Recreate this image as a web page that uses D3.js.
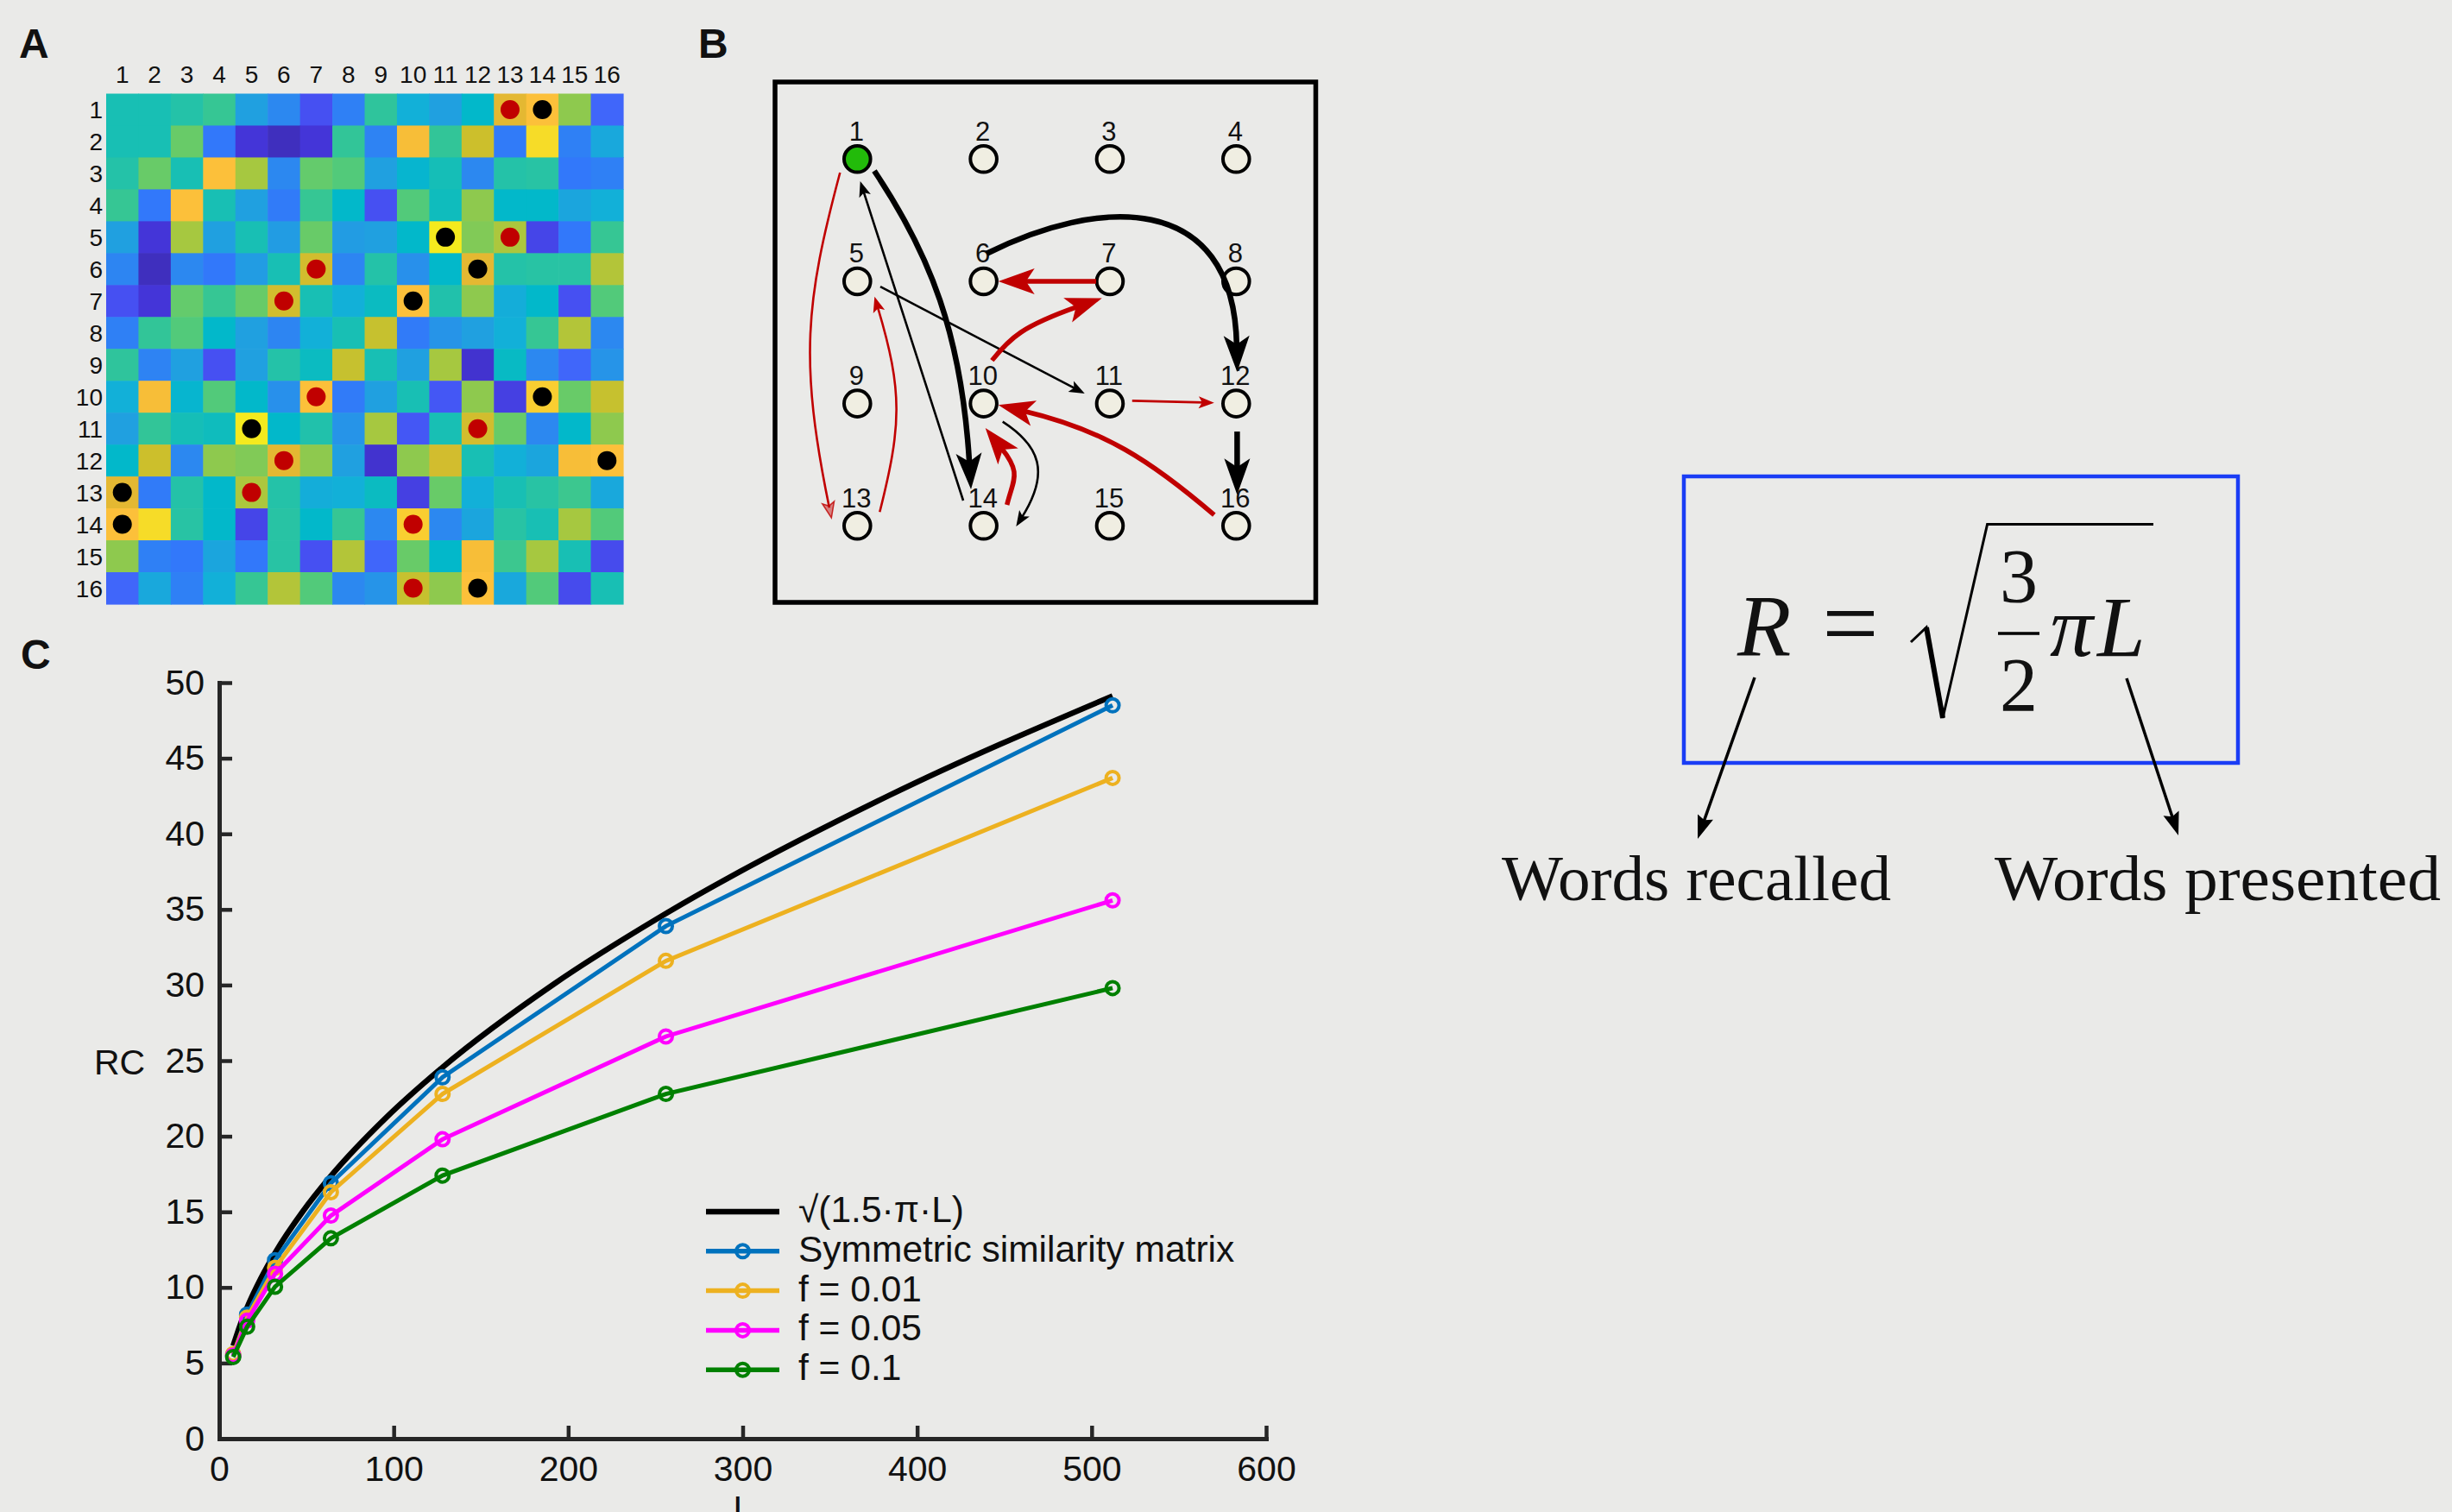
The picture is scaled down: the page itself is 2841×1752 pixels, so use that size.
<!DOCTYPE html>
<html>
<head>
<meta charset="utf-8">
<script src="https://cdn.jsdelivr.net/npm/d3@7"></script>
<style>
  html, body { margin: 0; padding: 0; background: #eaeae8; }
  svg { display: block; }
  text { font-family: "Liberation Sans", Arial, Helvetica, sans-serif; fill: #111; }
  .serif { font-family: "Liberation Serif", "Times New Roman", serif; }
</style>
</head>
<body>
<svg id="fig" width="2841" height="1752"></svg>
<script>
// ---------- Panel A: item similarity matrix (symmetric, 16 x 16) ----------
const itemLabels = d3.range(1, 17);
const simMatrix = [
  [0.49,0.49,0.53,0.58,0.30,0.24,0.10,0.21,0.56,0.36,0.30,0.42,0.89,0.94,0.74,0.13],
  [0.49,0.49,0.68,0.18,0.05,0.02,0.05,0.57,0.22,0.93,0.57,0.85,0.19,0.98,0.21,0.33],
  [0.53,0.68,0.49,0.94,0.79,0.24,0.67,0.63,0.30,0.40,0.48,0.24,0.53,0.54,0.18,0.21],
  [0.58,0.18,0.94,0.49,0.30,0.19,0.58,0.42,0.10,0.63,0.46,0.74,0.42,0.42,0.32,0.36],
  [0.30,0.05,0.79,0.30,0.49,0.29,0.68,0.29,0.30,0.42,1.00,0.72,0.80,0.08,0.18,0.58],
  [0.23,0.02,0.24,0.18,0.29,0.49,0.86,0.23,0.53,0.26,0.42,0.89,0.53,0.54,0.54,0.81],
  [0.10,0.05,0.67,0.58,0.68,0.86,0.49,0.36,0.45,0.94,0.52,0.74,0.35,0.42,0.10,0.63],
  [0.21,0.57,0.63,0.42,0.30,0.23,0.36,0.49,0.84,0.19,0.27,0.30,0.36,0.58,0.81,0.24],
  [0.56,0.22,0.30,0.10,0.30,0.53,0.45,0.84,0.49,0.30,0.79,0.04,0.44,0.24,0.13,0.27],
  [0.36,0.93,0.40,0.63,0.42,0.26,0.94,0.19,0.30,0.49,0.11,0.74,0.07,0.96,0.68,0.84],
  [0.30,0.57,0.48,0.46,1.00,0.42,0.52,0.27,0.79,0.11,0.49,0.86,0.68,0.24,0.42,0.74],
  [0.42,0.85,0.24,0.74,0.72,0.89,0.74,0.30,0.04,0.74,0.86,0.49,0.36,0.32,0.93,0.94],
  [0.89,0.19,0.53,0.42,0.80,0.53,0.35,0.36,0.45,0.07,0.68,0.36,0.49,0.54,0.59,0.33],
  [0.94,0.98,0.54,0.42,0.08,0.54,0.42,0.58,0.24,0.96,0.24,0.32,0.54,0.49,0.79,0.63],
  [0.74,0.21,0.18,0.32,0.18,0.54,0.10,0.81,0.13,0.68,0.42,0.93,0.59,0.79,0.49,0.09],
  [0.13,0.33,0.21,0.36,0.58,0.81,0.63,0.24,0.27,0.84,0.74,0.94,0.33,0.63,0.09,0.49]
];
// marked cells [row, column]
const redMarks   = [[1,13],[5,13],[6,7],[7,6],[10,7],[11,12],[12,6],[13,5],[14,10],[16,10]];
const blackMarks = [[1,14],[5,11],[6,12],[7,10],[10,14],[11,5],[12,16],[13,1],[14,1],[16,12]];

// parula-like colormap
const cmapStops  = [0.02,0.05,0.10,0.13,0.18,0.24,0.30,0.36,0.42,0.49,0.53,0.58,0.63,0.68,0.74,0.79,0.85,0.89,0.94,0.98,1.00];
const cmapColors = ['#3f2fbe','#4435d8','#4650f2','#4066fa','#3278fa','#2c88f0','#20a0e0','#12b0d8','#02b8ca','#18bfb4',
                    '#24c2a8','#36c694','#52ca7a','#68cb68','#8ec94e','#a6c840','#ccbf2c','#e4b832','#fcc03a','#f6dc28','#f5ea1e'];

// ---------- Panel B: recall transitions on a 4 x 4 grid of items ----------
const gridItems = d3.range(1, 17);
const firstRecalled = 1;
const transitions = [
  { from: 1,  to: 14, kind: 'black', weight: 'thick' },
  { from: 14, to: 1,  kind: 'black', weight: 'thin'  },
  { from: 1,  to: 13, kind: 'red',   weight: 'thin'  },
  { from: 13, to: 5,  kind: 'red',   weight: 'thin'  },
  { from: 5,  to: 11, kind: 'black', weight: 'thin'  },
  { from: 6,  to: 12, kind: 'black', weight: 'thick' },
  { from: 7,  to: 6,  kind: 'red',   weight: 'thick' },
  { from: 10, to: 7,  kind: 'red',   weight: 'thick' },
  { from: 11, to: 12, kind: 'red',   weight: 'thin'  },
  { from: 12, to: 16, kind: 'black', weight: 'thick' },
  { from: 16, to: 10, kind: 'red',   weight: 'thick' },
  { from: 14, to: 10, kind: 'red',   weight: 'thick' },
  { from: 10, to: 14, kind: 'black', weight: 'thin'  }
];

// ---------- Panel C: recall capacity vs list length ----------
const listLength   = [8, 16, 32, 64, 128, 256, 512];
const rcSymmetric  = [5.5, 8.2, 11.8, 16.9, 23.9, 33.9, 48.5];
const rcF001       = [5.6, 8.0, 11.3, 16.3, 22.8, 31.6, 43.7];
const rcF005       = [5.5, 7.8, 10.9, 14.75, 19.8, 26.6, 35.6];
const rcF01        = [5.4, 7.4, 10.05, 13.25, 17.4, 22.8, 29.8];
const theoryL      = [8, 12, 16, 24, 32, 48, 64, 96, 128, 192, 256, 384, 512];
const theoryRC     = [6.14, 7.52, 8.68, 10.63, 12.28, 15.04, 17.37, 21.27, 24.56, 30.08, 34.73, 42.54, 49.12];
const legendLabels = ['\u221A(1.5\u00B7\u03C0\u00B7L)', 'Symmetric similarity matrix', 'f = 0.01', 'f = 0.05', 'f = 0.1'];
const xTicks = [0, 100, 200, 300, 400, 500, 600];
const yTicks = [0, 5, 10, 15, 20, 25, 30, 35, 40, 45, 50];

// =====================================================================
const svg = d3.select('#fig');
svg.append('rect').attr('width', 2841).attr('height', 1752).attr('fill', '#eaeae8');

function panelLetter(txt, x, y) {
  svg.append('text').attr('x', x).attr('y', y).attr('font-size', 48).attr('font-weight', 'bold').text(txt);
}
panelLetter('A', 22, 67);
panelLetter('B', 809, 67);
panelLetter('C', 24, 775);

// ---------- Panel A ----------
const gA = svg.append('g');
const mx = d3.scaleBand().domain(itemLabels).range([123, 722]);
const my = d3.scaleBand().domain(itemLabels).range([108.5, 700]);
const cmap = d3.scaleLinear().domain(cmapStops).range(cmapColors).interpolate(d3.interpolateRgb).clamp(true);

const cells = [];
simMatrix.forEach((row, i) => row.forEach((v, j) => cells.push({ r: i + 1, c: j + 1, v })));
gA.selectAll('rect.cell').data(cells).join('rect')
  .attr('class', 'cell')
  .attr('x', d => mx(d.c)).attr('y', d => my(d.r))
  .attr('width', mx.bandwidth() + 0.6).attr('height', my.bandwidth() + 0.6)
  .attr('fill', d => cmap(d.v));

function marks(list, color) {
  gA.selectAll(null).data(list).join('circle')
    .attr('cx', d => mx(d[1]) + mx.bandwidth() / 2)
    .attr('cy', d => my(d[0]) + my.bandwidth() / 2)
    .attr('r', 11).attr('fill', color);
}
marks(redMarks, '#c00000');
marks(blackMarks, '#000');

gA.selectAll('text.col').data(itemLabels).join('text')
  .attr('class', 'col').attr('text-anchor', 'middle').attr('font-size', 28)
  .attr('x', d => mx(d) + mx.bandwidth() / 2).attr('y', 95.5).text(d => d);
gA.selectAll('text.row').data(itemLabels).join('text')
  .attr('class', 'row').attr('text-anchor', 'end').attr('font-size', 28)
  .attr('x', 119).attr('y', d => my(d) + my.bandwidth() / 2 + 10).text(d => d);

// ---------- Panel B ----------
const gB = svg.append('g');
gB.append('rect').attr('x', 898).attr('y', 95).attr('width', 626.5).attr('height', 603)
  .attr('fill', 'none').attr('stroke', '#000').attr('stroke-width', 5.5);

const gx = d3.scaleLinear().domain([0, 3]).range([993.3, 1432.3]);
const gy = d3.scaleLinear().domain([0, 3]).range([184.3, 609.3]);
const nodePos = n => [gx((n - 1) % 4), gy(Math.floor((n - 1) / 4))];

gB.selectAll('circle.node').data(gridItems).join('circle')
  .attr('class', 'node')
  .attr('cx', d => nodePos(d)[0]).attr('cy', d => nodePos(d)[1]).attr('r', 15.3)
  .attr('fill', d => d === firstRecalled ? '#22bb0a' : '#f0eee2')
  .attr('stroke', '#000').attr('stroke-width', 4);
gB.selectAll('text.nl').data(gridItems).join('text')
  .attr('class', 'nl').attr('text-anchor', 'middle').attr('font-size', 31)
  .attr('x', d => nodePos(d)[0] - 1).attr('y', d => nodePos(d)[1] - 21.5).text(d => d);

// how each transition arrow is routed: start/end offsets from node centres and bezier handles
const edgeRoutes = [
  { s: [19.7, 13.7],   e: [-14.6, -42.3], h1: [65, 97],     h2: [-9, -149] },
  { s: [-23.6, -29.3], e: [3.4, 25.7] },
  { s: [-20, 15.7],    e: [-30, -9.3],    h1: [-40, 150],   h2: [-35, -170], fade: true },
  { s: [26, -16],      e: [20, 17.8],     h1: [25, -100],   h2: [30, 100] },
  { s: [26.7, 6.2],    e: [-29.2, -11.6] },
  { s: [3.7, -32.2],   e: [1.1, -36.6],   h1: [125, -63],   h2: [-3, -184] },
  { s: [-15.9, 0],     e: [17.1, 0] },
  { s: [9.7, -50],     e: [-9.2, 19.5],   h1: [21, -26.3],  h2: [-63.9, 22.5] },
  { s: [25.8, -3.3],   e: [-25.5, -1] },
  { s: [1.1, 32.4],    e: [1.1, -36] },
  { s: [-25.5, -12.6], e: [17.1, 1.7],    h1: [-73, -62.5], h2: [93.5, 22] },
  { s: [27.1, -24.3],  e: [2.1, 28.4],    h1: [7, -29.3],   h2: [23.7, 29.5] },
  { s: [22.1, 21],     e: [37.7, 0.7],    h1: [43.5, 28.1], h2: [33.1, -52.3] }
];
const edgeColor = { black: '#000', red: '#c00000' };
const headSize = { thick: { len: 42, hw: 15, notch: 10 }, thin: { len: 18, hw: 7, notch: 4 } };
const shaftWidth = { black: { thick: 6.5, thin: 2.6 }, red: { thick: 5.5, thin: 2.6 } };

function drawHead(g, tip, ang, sz, color, faded) {
  const pts = [[0, 0], [-sz.len, -sz.hw], [-sz.len + sz.notch, 0], [-sz.len, sz.hw]];
  g.append('path')
    .attr('d', 'M' + pts.map(p => p.join(',')).join('L') + 'Z')
    .attr('transform', `translate(${tip[0]},${tip[1]}) rotate(${ang * 180 / Math.PI})`)
    .attr('fill', color).attr('fill-opacity', faded ? 0.45 : 1)
    .attr('stroke', faded ? color : 'none').attr('stroke-width', faded ? 1.5 : 0)
    .attr('stroke-opacity', 0.8);
}

transitions.forEach((t, i) => {
  const r = edgeRoutes[i];
  const a = nodePos(t.from), b = nodePos(t.to);
  const p0 = [a[0] + r.s[0], a[1] + r.s[1]];
  const p3 = [b[0] + r.e[0], b[1] + r.e[1]];
  let c1, c2;
  if (r.h1) {
    c1 = [p0[0] + r.h1[0], p0[1] + r.h1[1]];
    c2 = [p3[0] + r.h2[0], p3[1] + r.h2[1]];
  } else {
    c1 = [p0[0] + (p3[0] - p0[0]) / 3, p0[1] + (p3[1] - p0[1]) / 3];
    c2 = [p0[0] + 2 * (p3[0] - p0[0]) / 3, p0[1] + 2 * (p3[1] - p0[1]) / 3];
  }
  const ang = Math.atan2(p3[1] - c2[1], p3[0] - c2[0]);
  const sz = headSize[t.weight];
  const back = sz.len - sz.notch - 2;
  const dx = Math.cos(ang) * back, dy = Math.sin(ang) * back;
  const pe = [p3[0] - dx, p3[1] - dy];
  const c2s = [c2[0] - dx, c2[1] - dy];
  const color = edgeColor[t.kind];
  const path = d3.path();
  path.moveTo(p0[0], p0[1]);
  path.bezierCurveTo(c1[0], c1[1], c2s[0], c2s[1], pe[0], pe[1]);
  gB.append('path').attr('d', path.toString())
    .attr('fill', 'none').attr('stroke', color)
    .attr('stroke-width', shaftWidth[t.kind][t.weight]);
  drawHead(gB, p3, ang, sz, color, r.fade);
});

// ---------- Panel C ----------
const gC = svg.append('g');
const xC = d3.scaleLinear().domain([0, 600]).range([254, 1467]);
const yC = d3.scaleLinear().domain([0, 50]).range([1667, 791]);
const axisColor = '#262626';

const xAxis = d3.axisBottom(xC).tickValues(xTicks).tickSize(-15).tickSizeOuter(0).tickPadding(20).tickFormat(d3.format('d'));
const yAxis = d3.axisLeft(yC).tickValues(yTicks).tickSize(-15).tickSizeOuter(0).tickPadding(17).tickFormat(d3.format('d'));
const gx0 = gC.append('g').attr('transform', 'translate(0,1667)').call(xAxis);
const gy0 = gC.append('g').attr('transform', 'translate(254,0)').call(yAxis);
[gx0, gy0].forEach(g => {
  g.select('.domain').attr('stroke', axisColor).attr('stroke-width', 5).attr('stroke-linecap', 'square');
  g.selectAll('.tick line').attr('stroke', axisColor).attr('stroke-width', 4.5);
  g.selectAll('.tick text').attr('font-size', 41).attr('fill', '#111')
    .attr('font-family', '"Liberation Sans", Arial, sans-serif');
});

gC.append('text').attr('x', 138.5).attr('y', 1245).attr('text-anchor', 'middle').attr('font-size', 41).text('RC');
gC.append('text').attr('x', 861).attr('y', 1762).attr('text-anchor', 'middle').attr('font-size', 41).text('L');

const seriesList = [
  { values: rcSymmetric, color: '#0072bd' },
  { values: rcF001,      color: '#edb120' },
  { values: rcF005,      color: '#ff00ff' },
  { values: rcF01,       color: '#008000' }
];
const line = d3.line().x(d => xC(d[0])).y(d => yC(d[1]));

gC.append('path')
  .datum(d3.zip(theoryL, theoryRC))
  .attr('d', line.curve(d3.curveMonotoneX))
  .attr('fill', 'none').attr('stroke', '#000').attr('stroke-width', 6.5);
line.curve(d3.curveLinear);

seriesList.forEach(s => {
  const pts = d3.zip(listLength, s.values);
  gC.append('path').datum(pts).attr('d', line)
    .attr('fill', 'none').attr('stroke', s.color).attr('stroke-width', 5);
  gC.selectAll(null).data(pts).join('circle')
    .attr('cx', d => xC(d[0])).attr('cy', d => yC(d[1])).attr('r', 7.5)
    .attr('fill', 'none').attr('stroke', s.color).attr('stroke-width', 4);
});

// legend
const legendColors = ['#000', '#0072bd', '#edb120', '#ff00ff', '#008000'];
const gL = gC.append('g');
legendLabels.forEach((lab, i) => {
  const y = 1404 + i * 45.8;
  gL.append('line').attr('x1', 818).attr('x2', 903).attr('y1', y).attr('y2', y)
    .attr('stroke', legendColors[i]).attr('stroke-width', i === 0 ? 6.5 : 5.5);
  if (i > 0) {
    gL.append('circle').attr('cx', 860.5).attr('cy', y).attr('r', 7.5)
      .attr('fill', 'none').attr('stroke', legendColors[i]).attr('stroke-width', 4);
  }
  gL.append('text').attr('x', 925).attr('y', y + 12).attr('font-size', 42.5).text(lab);
});

// ---------- Formula panel ----------
const gF = svg.append('g');
gF.append('rect').attr('x', 1951).attr('y', 552).attr('width', 642).attr('height', 332)
  .attr('fill', 'none').attr('stroke', '#1a3df5').attr('stroke-width', 4.5);

gF.append('text').attr('class', 'serif').attr('x', 2013).attr('y', 760)
  .attr('font-size', 102).attr('font-style', 'italic').text('R');
gF.append('text').attr('class', 'serif').attr('x', 2144).attr('y', 761).attr('text-anchor', 'middle')
  .attr('font-size', 116).text('=');
// radical sign
gF.append('path').attr('d', 'M2214,744 L2232,727 L2251,832 L2302.6,607.5 L2495,607.5')
  .attr('fill', 'none').attr('stroke', '#000').attr('stroke-width', 3).attr('stroke-linejoin', 'miter');
gF.append('path').attr('d', 'M2232,727 L2251,832').attr('stroke', '#000').attr('stroke-width', 6);
// fraction 3/2
gF.append('text').attr('class', 'serif').attr('x', 2339).attr('y', 697).attr('text-anchor', 'middle')
  .attr('font-size', 88).text('3');
gF.append('line').attr('x1', 2315).attr('x2', 2363).attr('y1', 734).attr('y2', 734)
  .attr('stroke', '#000').attr('stroke-width', 3.5);
gF.append('text').attr('class', 'serif').attr('x', 2339).attr('y', 823).attr('text-anchor', 'middle')
  .attr('font-size', 88).text('2');
gF.append('text').attr('class', 'serif').attr('x', 2375).attr('y', 760)
  .attr('font-size', 100).attr('font-style', 'italic').text('\u03C0');
gF.append('text').attr('class', 'serif').attr('x', 2430).attr('y', 760)
  .attr('font-size', 100).attr('font-style', 'italic').text('L');

// callout arrows
function callout(from, tip) {
  const ang = Math.atan2(tip[1] - from[1], tip[0] - from[0]);
  const back = 20;
  gF.append('line').attr('x1', from[0]).attr('y1', from[1])
    .attr('x2', tip[0] - Math.cos(ang) * back).attr('y2', tip[1] - Math.sin(ang) * back)
    .attr('stroke', '#000').attr('stroke-width', 3.5);
  drawHead(gF, tip, ang, { len: 27, hw: 9.5, notch: 4 }, '#000', false);
}
callout([2033, 785], [1967, 972]);
callout([2464, 786], [2524, 968]);

gF.append('text').attr('class', 'serif').attr('x', 1740).attr('y', 1043)
  .attr('font-size', 74).attr('textLength', 451).attr('lengthAdjust', 'spacingAndGlyphs').text('Words recalled');
gF.append('text').attr('class', 'serif').attr('x', 2311).attr('y', 1043)
  .attr('font-size', 74).attr('textLength', 517).attr('lengthAdjust', 'spacingAndGlyphs').text('Words presented');
</script>
</body>
</html>
